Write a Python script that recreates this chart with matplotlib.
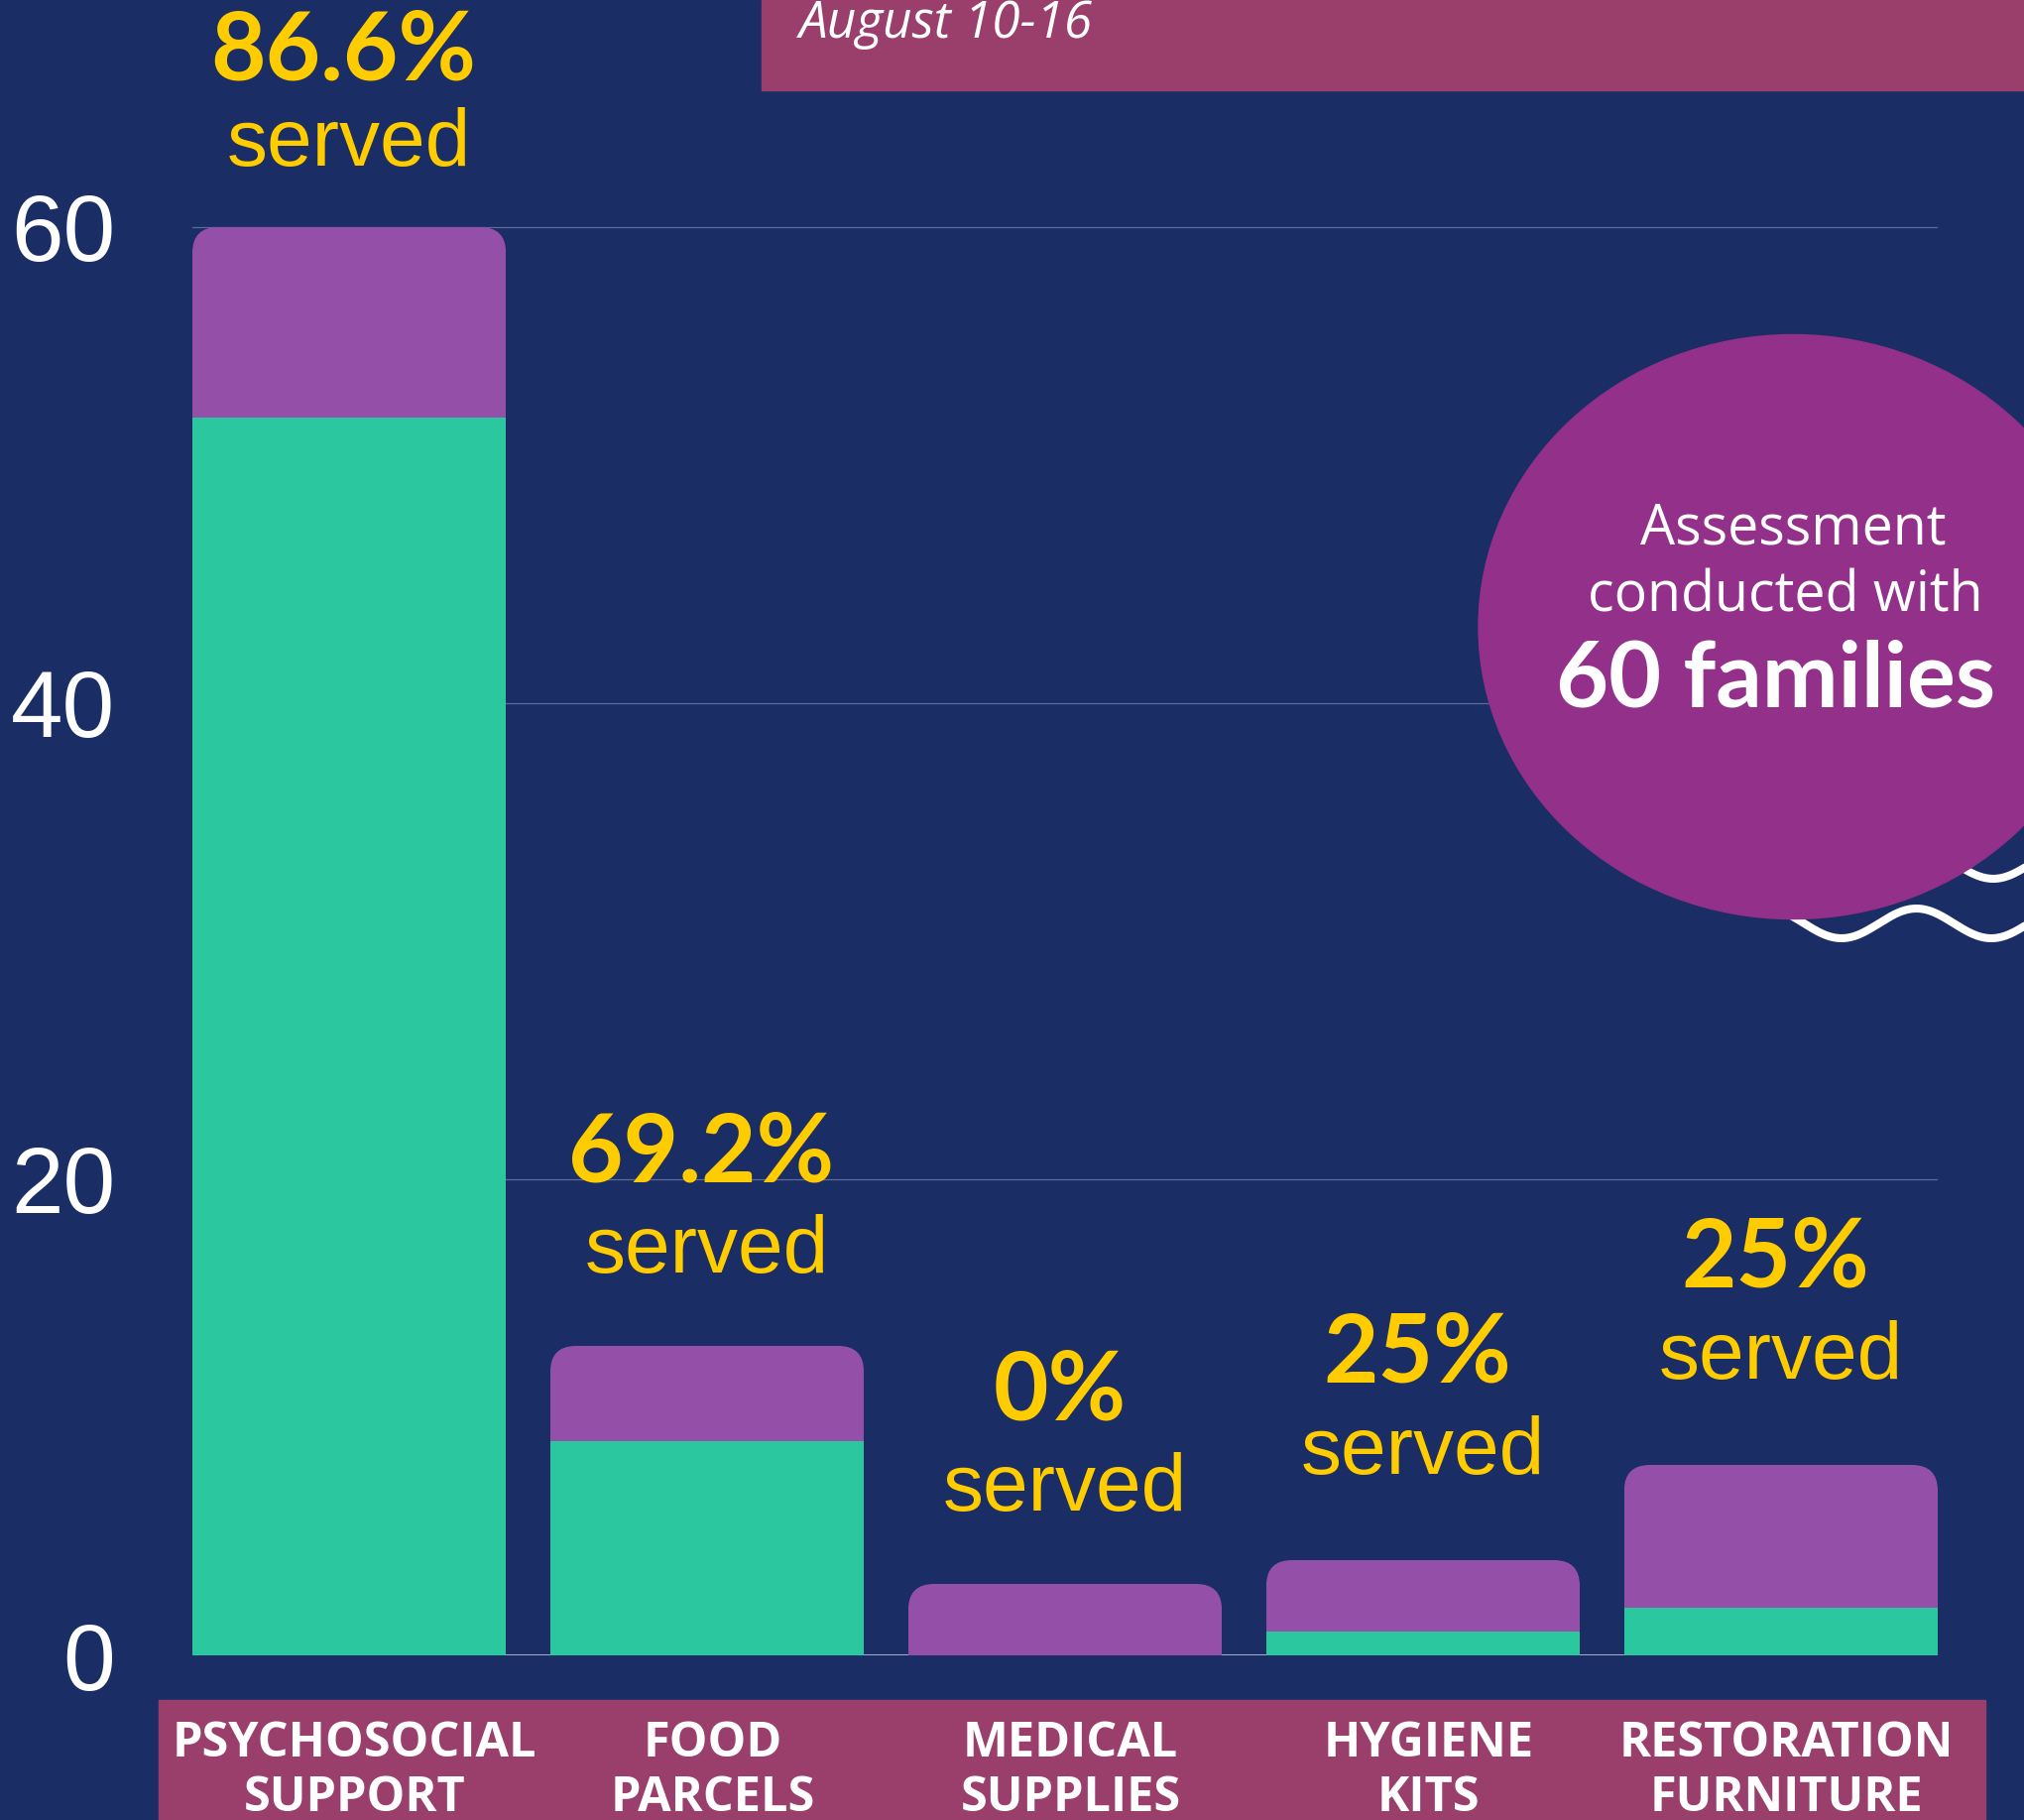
import matplotlib
matplotlib.use("Agg")
import matplotlib.pyplot as plt
import matplotlib.transforms as mtransforms
from matplotlib.patches import FancyBboxPatch, Ellipse, Rectangle
import numpy as np

# ---------------- data ----------------
categories = ["PSYCHOSOCIAL\nSUPPORT", "FOOD\nPARCELS", "MEDICAL\nSUPPLIES",
              "HYGIENE\nKITS", "RESTORATION\nFURNITURE"]
served = [52, 9, 0, 1, 2]
not_served = [8, 4, 3, 3, 6]
pct_labels = ["86.6%", "69.2%", "0%", "25%", "25%"]
yticks = [0, 20, 40, 60]

# ---------------- style ----------------
BG = "#1A2D64"
PURPLE = "#9450A8"
TEAL = "#2BC79F"
YELLOW = "#FFCC00"
BANNER = "#9A3F6C"
CIRCLE = "#92308A"
GRID = "#5C6B98"
BASE = "#A3A9C9"

W, H = 2041, 1835
fig = plt.figure(figsize=(W / 100, H / 100), dpi=100)
fig.patch.set_facecolor(BG)

bw = 0.876
ymax = 60.5
ax_left, ax_right, ax_bottom = 194, 1954, 1669
ax_h = 24 * ymax
ax = fig.add_axes([ax_left / W, (H - ax_bottom) / H, (ax_right - ax_left) / W, ax_h / H])
ax.set_facecolor(BG)
x = np.arange(len(categories))
ax.set_xlim(-bw / 2, len(categories) - 1 + bw / 2)
ax.set_ylim(0, ymax)
for s in ax.spines.values():
    s.set_visible(False)
ax.set_yticks(yticks)
ax.set_yticklabels([str(t) for t in yticks], fontsize=68, color="white",
                   family="Liberation Sans")
ax.tick_params(axis="y", length=0, pad=56)
ax.set_xticks([])
ax.grid(axis="y", color=GRID, lw=0.9)
ax.set_axisbelow(True)
ax.axhline(0, color=BASE, lw=1.5, zorder=1)

bars_served = ax.bar(x, served, width=bw, color=TEAL, zorder=3)
bars_rest = ax.bar(x, not_served, bottom=served, width=bw, color=PURPLE, zorder=2)

# rounded top corners
px_per_x = (ax_right - ax_left) / (len(categories) - 1 + bw)
px_per_y = ax_h / ymax
r_px = 26
aspect = px_per_x / px_per_y
for rect in bars_rest:
    x0 = rect.get_x()
    top = rect.get_y() + rect.get_height()
    clip = FancyBboxPatch((x0, -10), rect.get_width(), top + 10,
                          boxstyle=f"round,pad=0,rounding_size={r_px / px_per_x}",
                          mutation_aspect=aspect, transform=ax.transData)
    rect.set_clip_path(clip)

# value labels
label_pad_pt = [45, 53, 53, 63, 63]
pct_gap_pt = [62, 66, 66, 66, 66]
for i, rect in enumerate(bars_rest):
    cx = rect.get_x() + rect.get_width() / 2
    top = served[i] + not_served[i]
    ax.annotate("served", xy=(cx, top), xytext=(0, label_pad_pt[i]),
                textcoords="offset points", ha="center", va="baseline",
                fontsize=59, color=YELLOW, family="Liberation Sans",
                annotation_clip=False)
    ax.annotate(pct_labels[i], xy=(cx, top), xytext=(-4, label_pad_pt[i] + pct_gap_pt[i]),
                textcoords="offset points", ha="center", va="baseline",
                fontsize=69, fontweight="bold", color=YELLOW, family="Lato",
                annotation_clip=False)

# ---------------- overlay decorations ----------------
ov = fig.add_axes([0, 0, 1, 1], zorder=5)
ov.set_xlim(0, W)
ov.set_ylim(H, 0)
ov.axis("off")

# top banner
ov.add_patch(Rectangle((768, 0), W - 768, 91, color=BANNER, zorder=1))
ov.text(806, 38, "August 10-16", fontsize=37, style="italic", family="Open Sans",
        color="white", va="baseline", ha="left", zorder=2)

# bottom banner with category labels
ov.add_patch(Rectangle((160, 1714), 1842, 130, color=BANNER, zorder=1))
trans = mtransforms.blended_transform_factory(ax.transData, ov.transData)
for i, rect in enumerate(bars_rest):
    cx = rect.get_x() + rect.get_width() / 2
    ov.text(cx + 0.015, 1786, categories[i], transform=trans, ha="center", va="center",
            fontsize=35, fontweight="bold", family="Open Sans", color="white",
            linespacing=1.15, zorder=2)

# waves
xs = np.linspace(1803, 2045, 300)
ov.plot(xs, 931 + 15 * np.cos(2 * np.pi * (xs - 1857) / 151), color="white",
        lw=5.8, solid_capstyle="round", zorder=2)
ov.plot(xs, 871 + 15 * np.cos(2 * np.pi * (xs - 2010) / 151), color="white",
        lw=5.8, solid_capstyle="round", zorder=2)

# circle
ov.add_patch(Ellipse((1808, 632), 634, 589, color=CIRCLE, zorder=3))
ov.text(1808, 548, "Assessment", ha="center", va="baseline", fontsize=40,
        family="Open Sans", color="white", zorder=4)
ov.text(1800, 616, "conducted with", ha="center", va="baseline", fontsize=40,
        family="Open Sans", color="white", zorder=4)
ov.text(1791, 712, "60 families", ha="center", va="baseline", fontsize=66,
        fontweight="bold", family="Lato", color="white", zorder=4)

fig.savefig("out.png", dpi=100, facecolor=BG)
